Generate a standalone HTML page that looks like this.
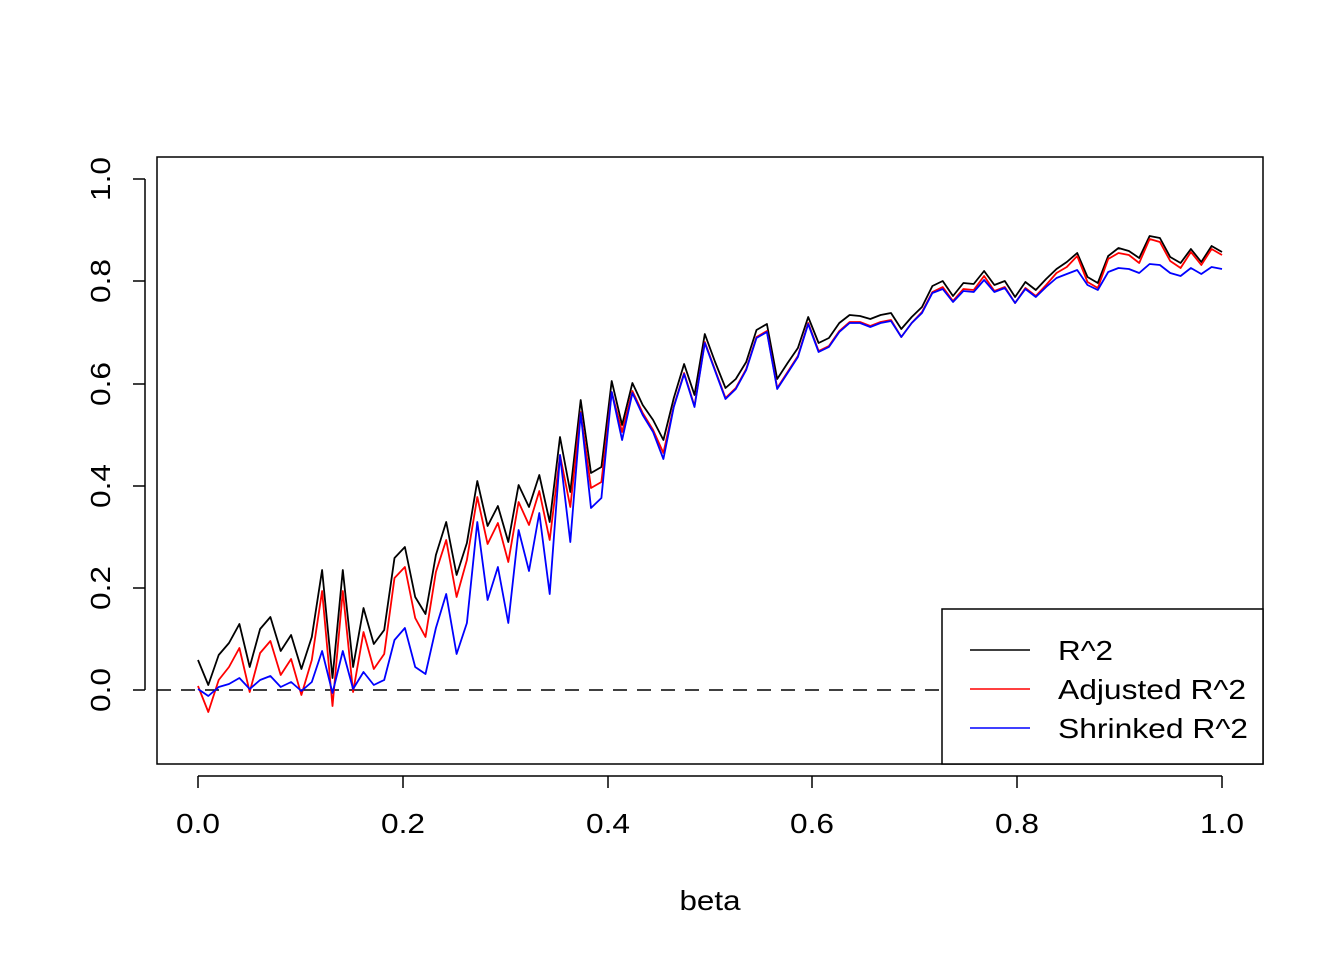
<!DOCTYPE html>
<html><head><meta charset="utf-8"><style>
html,body{margin:0;padding:0;background:#fff;}
svg{display:block;}
text{font-family:"Liberation Sans",Arial,sans-serif;fill:#000;}
</style></head><body>
<svg id="s" width="1344" height="960" viewBox="0 0 1344 960" xmlns="http://www.w3.org/2000/svg">
<rect x="0" y="0" width="1344" height="960" fill="#fff"/>
<rect x="157" y="157" width="1106" height="607" fill="none" stroke="#000" stroke-width="1.5"/>
<line x1="157" y1="690" x2="942" y2="690" stroke="#000" stroke-width="1.5" stroke-dasharray="14,10"/>
<g id="series"></g>
<g stroke="#000" stroke-width="1.5">
<line x1="145" y1="179" x2="145" y2="690"/>
<line x1="133" y1="179" x2="145" y2="179"/>
<line x1="133" y1="281" x2="145" y2="281"/>
<line x1="133" y1="384" x2="145" y2="384"/>
<line x1="133" y1="486" x2="145" y2="486"/>
<line x1="133" y1="588" x2="145" y2="588"/>
<line x1="133" y1="690" x2="145" y2="690"/>
<line x1="198" y1="776" x2="1222" y2="776"/>
<line x1="198" y1="776" x2="198" y2="788"/>
<line x1="403" y1="776" x2="403" y2="788"/>
<line x1="608" y1="776" x2="608" y2="788"/>
<line x1="812" y1="776" x2="812" y2="788"/>
<line x1="1017" y1="776" x2="1017" y2="788"/>
<line x1="1222" y1="776" x2="1222" y2="788"/>
</g>
<g font-size="28" text-anchor="middle">
<text transform="translate(110,179) rotate(-90)" textLength="44" lengthAdjust="spacingAndGlyphs">1.0</text>
<text transform="translate(110,281) rotate(-90)" textLength="44" lengthAdjust="spacingAndGlyphs">0.8</text>
<text transform="translate(110,384) rotate(-90)" textLength="44" lengthAdjust="spacingAndGlyphs">0.6</text>
<text transform="translate(110,486) rotate(-90)" textLength="44" lengthAdjust="spacingAndGlyphs">0.4</text>
<text transform="translate(110,588) rotate(-90)" textLength="44" lengthAdjust="spacingAndGlyphs">0.2</text>
<text transform="translate(110,690) rotate(-90)" textLength="44" lengthAdjust="spacingAndGlyphs">0.0</text>
<text x="198" y="833" textLength="44" lengthAdjust="spacingAndGlyphs">0.0</text>
<text x="403" y="833" textLength="44" lengthAdjust="spacingAndGlyphs">0.2</text>
<text x="608" y="833" textLength="44" lengthAdjust="spacingAndGlyphs">0.4</text>
<text x="812" y="833" textLength="44" lengthAdjust="spacingAndGlyphs">0.6</text>
<text x="1017" y="833" textLength="44" lengthAdjust="spacingAndGlyphs">0.8</text>
<text x="1222" y="833" textLength="44" lengthAdjust="spacingAndGlyphs">1.0</text>
<text x="710" y="910" textLength="61" lengthAdjust="spacingAndGlyphs">beta</text>
</g>
<rect x="942" y="609" width="321" height="155" fill="#fff" stroke="#000" stroke-width="1.5"/>
<line x1="970" y1="650" x2="1030" y2="650" stroke="#000" stroke-width="1.5"/>
<line x1="970" y1="689" x2="1030" y2="689" stroke="#ff0000" stroke-width="1.5"/>
<line x1="970" y1="728" x2="1030" y2="728" stroke="#0000ff" stroke-width="1.5"/>
<g font-size="28">
<text x="1058" y="660" textLength="55" lengthAdjust="spacingAndGlyphs">R^2</text>
<text x="1058" y="699" textLength="188" lengthAdjust="spacingAndGlyphs">Adjusted R^2</text>
<text x="1058" y="738" textLength="190" lengthAdjust="spacingAndGlyphs">Shrinked R^2</text>
</g>
</svg>
<script>
var K=[660,685,655,643,624,667,629,617,651,635,669,637,570,678,570,667,608,644,630,558,547,597,614,555,522,575,543,481,526,506,542,485,507,475,522,437,492,400,473,467,381,425,383,405,420,440,398,364,395,334,362,388,379,362,330,324,379,363,348,317,343,338,323,315,316,319,315,313,329,317,307,286,281,296,283,284,271,285,281,297,282,290,279,269,262,253,277,283,256,248,251,258,236,238,257,263,249,262,246,252];
var R=[686,712,680,667,648,692,653,641,675,659,695,660,591,706,591,692,632,669,654,578,567,618,637,572,540,597,560,497,544,523,562,502,525,491,540,455,507,412,488,482,392,432,391,413,430,453,406,373,406,342,370,398,388,369,337,331,388,372,356,323,351,346,331,322,322,326,322,320,337,323,312,292,287,301,289,290,276,291,287,303,288,296,285,273,267,256,282,288,259,253,255,263,239,242,261,268,252,265,249,255];
var B=[689,696,687,684,678,689,680,676,687,682,691,682,651,693,651,689,672,685,680,640,628,667,674,628,594,654,623,522,600,567,623,530,571,513,594,455,542,413,508,498,392,440,393,415,432,459,407,374,407,343,371,399,389,370,338,332,389,373,357,324,352,347,332,323,323,327,323,321,337,323,313,293,289,302,291,292,280,292,288,303,289,297,287,278,274,270,285,290,272,268,269,273,264,265,273,276,268,274,267,269];
function pl(a,c){var p=a.map(function(y,i){return (198+10.343*i).toFixed(1)+","+y;}).join(" ");
return '<polyline points="'+p+'" fill="none" stroke="'+c+'" stroke-width="1.8" stroke-linejoin="round"/>';}
document.getElementById("series").innerHTML=pl(K,"#000")+pl(R,"#ff0000")+pl(B,"#0000ff");
</script>
</body></html>
